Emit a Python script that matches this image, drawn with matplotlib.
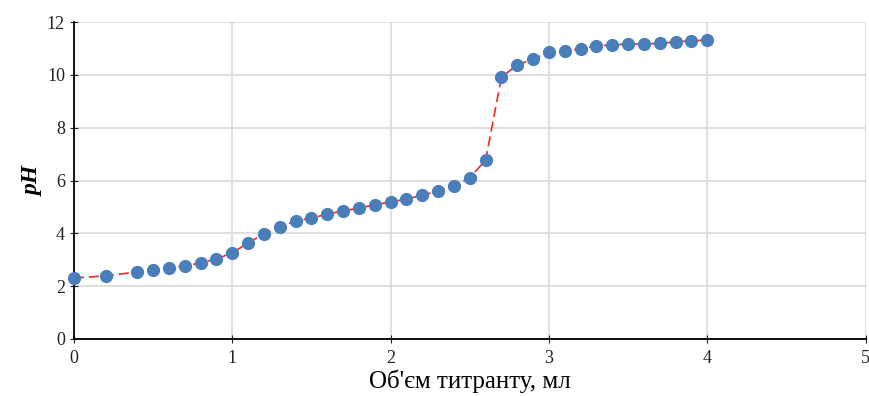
import matplotlib.pyplot as plt

volume = [0, 0.2, 0.4, 0.5, 0.6, 0.7, 0.8, 0.9, 1.0, 1.1, 1.2, 1.3, 1.4, 1.5,
          1.6, 1.7, 1.8, 1.9, 2.0, 2.1, 2.2, 2.3, 2.4, 2.5, 2.6, 2.7, 2.8, 2.9,
          3.0, 3.1, 3.2, 3.3, 3.4, 3.5, 3.6, 3.7, 3.8, 3.9, 4.0]
ph = [2.31, 2.39, 2.54, 2.61, 2.69, 2.77, 2.88, 3.03, 3.26, 3.64, 3.98, 4.24,
      4.47, 4.58, 4.73, 4.85, 4.96, 5.08, 5.19, 5.30, 5.45, 5.60, 5.80, 6.10,
      6.78, 9.92, 10.38, 10.60, 10.87, 10.90, 11.00, 11.10, 11.14, 11.17,
      11.17, 11.20, 11.25, 11.30, 11.32]

plt.rcParams['font.family'] = ['Liberation Serif', 'DejaVu Serif']
fig = plt.figure(figsize=(8.7, 3.96), dpi=100)
ax = fig.add_axes([0.085, 0.144, 0.91, 0.8])

ax.plot(volume, ph, color='#ee2a24', lw=1.2, ls=(0, (6, 3)), zorder=2)
ax.plot(volume, ph, ls='none', marker='o', ms=8.5, color='#4a7ebb', zorder=3,
        clip_on=False)

ax.set_xlim(0, 5)
ax.set_ylim(0, 12)
ax.set_xticks(range(0, 6))
ax.set_yticks(range(0, 13, 2))
ax.grid(color='#d9d9d9', lw=1.2)
ax.set_axisbelow(True)
for s in ['top', 'right']:
    ax.spines[s].set_visible(False)
for s in ['left', 'bottom']:
    ax.spines[s].set_linewidth(1.3)
ax.tick_params(direction='inout', length=6, labelsize=13, colors='#222222')
ax.tick_params(axis='x', pad=5)
ax.set_xlabel("Об'єм титранту, мл", fontsize=18, labelpad=2)
ax.set_ylabel('pH', fontsize=17, style='italic', fontweight='bold', labelpad=2)

fig.savefig('out.png', dpi=100)
